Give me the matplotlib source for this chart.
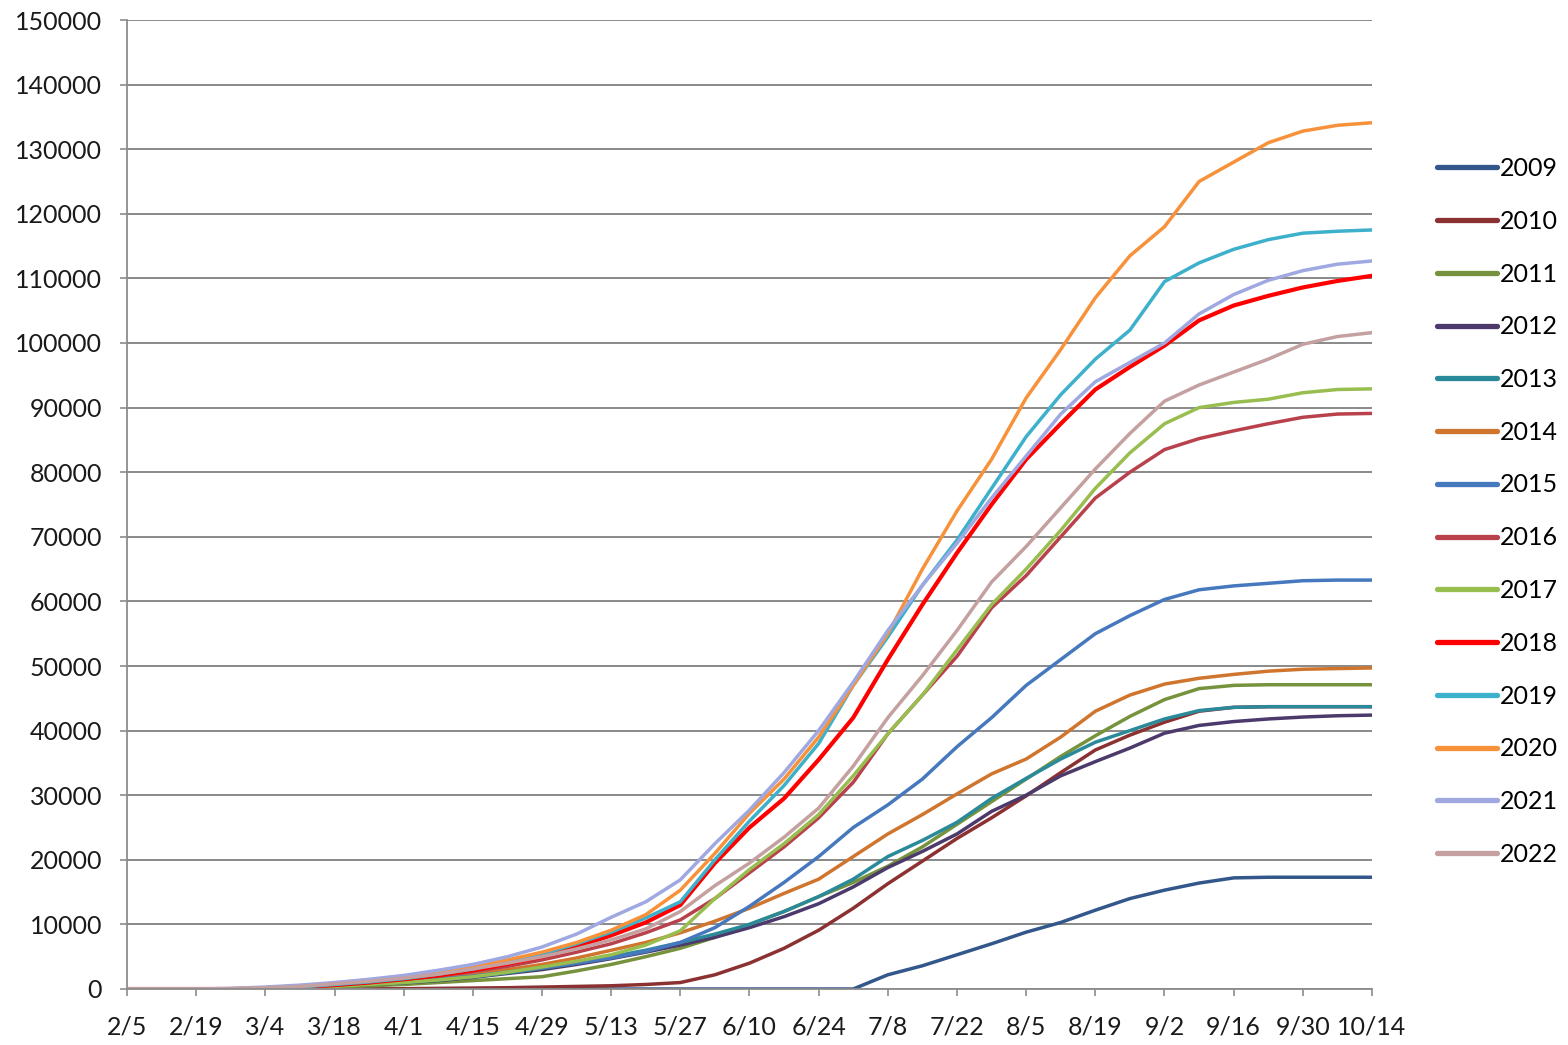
import matplotlib
matplotlib.use("Agg")
import matplotlib.pyplot as plt
import numpy as np

# day offsets from 2/5 (weekly samples)
days = list(range(0, 253, 7))
tick_days = list(range(0, 253, 14))
tick_labels = ["2/5", "2/19", "3/4", "3/18", "4/1", "4/15", "4/29", "5/13", "5/27",
               "6/10", "6/24", "7/8", "7/22", "8/5", "8/19", "9/2", "9/16", "9/30", "10/14"]

y2009 = [0]*22 + [2200, 3600, 5300, 7000, 8800, 10300, 12200, 14000, 15300, 16400,
                  17200, 17300, 17300, 17300, 17300]
y2010 = [0]*8 + [50, 100, 150, 200, 300, 400, 500, 700, 1000, 2200, 4000, 6300, 9100,
                 12500, 16300, 19800, 23300, 26500, 29900, 33500, 37000, 39300, 41300,
                 43000, 43600, 43700, 43700, 43700, 43700]
y2011 = [0, 0, 0, 0, 50, 150, 300, 500, 700, 1000, 1300, 1600, 1900, 2800, 3800, 5000,
         6300, 8000, 10000, 12000, 14300, 16500, 19000, 22000, 25500, 29000, 32500, 36000,
         39200, 42200, 44800, 46500, 47000, 47100, 47100, 47100, 47100]
y2012 = [0, 0, 0, 0, 100, 250, 450, 700, 950, 1300, 1800, 2400, 3000, 3800, 4700, 5700,
         6800, 8000, 9500, 11200, 13200, 15800, 18800, 21300, 24000, 27500, 30000, 33000,
         35200, 37300, 39600, 40800, 41400, 41800, 42100, 42300, 42400]
y2013 = [0, 0, 0, 0, 100, 300, 500, 800, 1000, 1400, 1900, 2500, 3200, 4000, 5000, 6000,
         7200, 8500, 10000, 12000, 14300, 17000, 20500, 23000, 25800, 29500, 32600, 35600,
         38200, 40000, 41800, 43100, 43600, 43700, 43700, 43700, 43700]
y2014 = [0, 0, 0, 0, 100, 300, 600, 900, 1200, 1700, 2300, 3000, 3800, 4800, 6000, 7200,
         8700, 10500, 12500, 14800, 17000, 20500, 24000, 27000, 30200, 33300, 35600, 39000,
         43000, 45500, 47200, 48100, 48700, 49200, 49500, 49600, 49700]
y2015 = [0, 0, 0, 0, 100, 300, 500, 800, 1100, 1500, 2000, 2600, 3300, 4000, 4800, 5800,
         7200, 9500, 12800, 16500, 20500, 25000, 28500, 32500, 37500, 42000, 47000, 51000,
         55000, 57800, 60300, 61800, 62400, 62800, 63200, 63300, 63300]
y2016 = [0, 0, 0, 0, 100, 300, 600, 1000, 1400, 2000, 2700, 3500, 4500, 5700, 7000, 8700,
         10700, 14000, 18000, 22000, 26500, 32000, 39500, 45500, 51500, 59000, 64000, 70000,
         76000, 80000, 83500, 85200, 86400, 87500, 88500, 89000, 89100]
y2017 = [0, 0, 0, 0, 100, 200, 400, 700, 1000, 1400, 1900, 2600, 3400, 4300, 5300, 6800,
         9000, 14000, 18500, 22500, 27000, 33000, 39500, 45500, 52500, 59500, 65000, 71000,
         77500, 83000, 87500, 90000, 90800, 91300, 92300, 92800, 92900]
y2018 = [0, 0, 0, 0, 100, 300, 600, 1000, 1500, 2100, 2900, 3900, 5000, 6500, 8300, 10300,
         13000, 19500, 25000, 29500, 35500, 42000, 51000, 59500, 67500, 75000, 82000, 87500,
         92800, 96300, 99600, 103500, 105800, 107300, 108600, 109600, 110400]
y2019 = [0, 0, 0, 0, 100, 300, 700, 1100, 1600, 2300, 3100, 4200, 5400, 7000, 8800, 11000,
         13500, 20000, 26000, 31500, 38000, 47000, 54500, 62500, 69500, 77500, 85500, 92000,
         97500, 102000, 109500, 112400, 114500, 116000, 117000, 117300, 117500]
y2020 = [0, 0, 0, 0, 200, 500, 900, 1400, 1900, 2600, 3400, 4500, 5700, 7200, 9100, 11500,
         15300, 21000, 27200, 32500, 39000, 47000, 55000, 65000, 74000, 82000, 91500, 99000,
         107000, 113500, 118000, 125000, 128000, 131000, 132800, 133700, 134100]
y2021 = [0, 0, 0, 100, 300, 600, 1000, 1500, 2100, 2900, 3800, 5000, 6500, 8500, 11100,
         13500, 16900, 22500, 27700, 33500, 40000, 47500, 55500, 62500, 69000, 76000, 82500,
         89000, 94000, 97000, 100000, 104500, 107500, 109700, 111200, 112200, 112700]
y2022 = [0, 0, 0, 50, 200, 400, 800, 1200, 1700, 2300, 3100, 4000, 5000, 6200, 7600, 9300,
         12000, 16000, 19500, 23500, 28000, 34500, 42000, 48500, 55500, 63000, 68500, 74500,
         80500, 86000, 91000, 93500, 95500, 97500, 99800, 101000, 101600]

years = ["2009", "2010", "2011", "2012", "2013", "2014", "2015", "2016", "2017",
         "2018", "2019", "2020", "2021", "2022"]
series = [y2009, y2010, y2011, y2012, y2013, y2014, y2015, y2016, y2017,
          y2018, y2019, y2020, y2021, y2022]
colors = ["#33578A", "#8C3131", "#76923C", "#4B3A6B", "#2B8A9A", "#D0752E", "#4678BE",
          "#B9414B", "#98BE50", "#FF0000", "#3DB0CC", "#F7923A", "#9FA8E0", "#C4A0A0"]

plt.rcParams['font.family'] = ['Lato', 'DejaVu Sans']

fig = plt.figure(figsize=(15.68, 10.45), dpi=100)
ax = fig.add_axes([127/1568, 1 - 989/1045, (1372 - 127)/1568, (989 - 20)/1045])

for yr, ys, c in zip(years, series, colors):
    lw = 3.0 if yr == "2018" else 2.5
    ax.plot(days, ys, color=c, lw=lw, label=yr, solid_capstyle='round')

ax.set_xlim(0, 252)
ax.set_ylim(0, 150000)
ax.set_yticks(range(0, 150001, 10000))
ax.set_yticklabels([str(v) for v in range(0, 150001, 10000)])
ax.set_xticks(tick_days)
ax.set_xticklabels(tick_labels)
ax.grid(axis='y', color='#808080', lw=1.3)
ax.set_axisbelow(True)
for s in ['top', 'right']:
    ax.spines[s].set_visible(False)
for s in ['left', 'bottom']:
    ax.spines[s].set_color('#8C8C8C')
    ax.spines[s].set_linewidth(1.3)
ax.tick_params(axis='both', labelsize=18, colors='#8C8C8C', labelcolor='#1a1a1a',
               length=5, width=1.2, direction='out')
ax.tick_params(axis='x', pad=14)
ax.tick_params(axis='y', pad=13)

leg = ax.legend(loc='upper left', bbox_to_anchor=(1437/1568, 1 - 157/1045),
                bbox_transform=fig.transFigure, frameon=False, fontsize=18,
                handlelength=2.4, handletextpad=0.12, labelspacing=1.19,
                borderaxespad=0, borderpad=0)
for h in leg.get_lines():
    h.set_linewidth(3.8)

fig.savefig("out.png", dpi=100, facecolor='white')
